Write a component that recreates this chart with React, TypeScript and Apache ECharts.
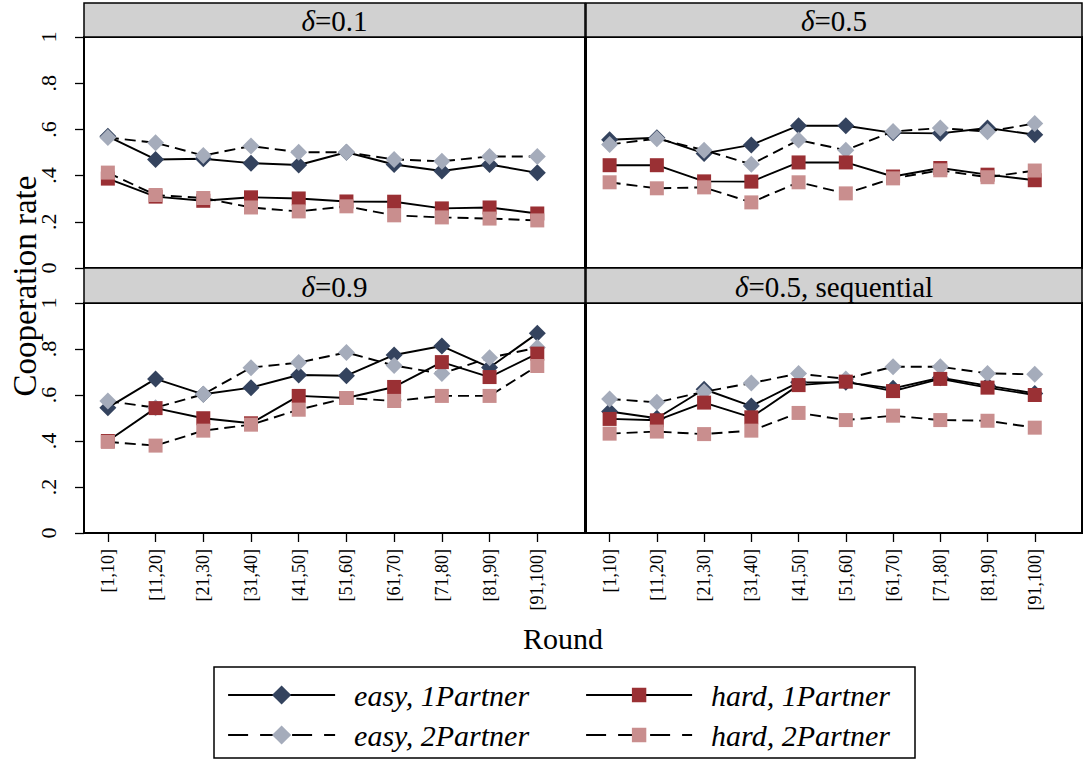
import React, { useEffect, useRef } from "react";
import * as echarts from "echarts";

const rounds = ["[1,10]", "[11,20]", "[21,30]", "[31,40]", "[41,50]", "[51,60]", "[61,70]", "[71,80]", "[81,90]", "[91,100]"];
const yTicks = [0, 0.2, 0.4, 0.6, 0.8, 1];
const seriesNames = ["easy, 1Partner", "easy, 2Partner", "hard, 1Partner", "hard, 2Partner"];

// delta = 0.1
const easy1_d01 = [0.57, 0.47, 0.473, 0.454, 0.446, 0.501, 0.448, 0.42, 0.448, 0.412];
const easy2_d01 = [0.565, 0.542, 0.487, 0.528, 0.501, 0.501, 0.47, 0.462, 0.483, 0.483];
const hard1_d01 = [0.387, 0.309, 0.291, 0.306, 0.301, 0.288, 0.287, 0.258, 0.262, 0.236];
const hard2_d01 = [0.413, 0.316, 0.303, 0.262, 0.245, 0.267, 0.228, 0.219, 0.214, 0.206];
// delta = 0.5
const easy1_d05 = [0.555, 0.564, 0.496, 0.533, 0.616, 0.616, 0.585, 0.583, 0.606, 0.577];
const easy2_d05 = [0.535, 0.56, 0.51, 0.449, 0.554, 0.51, 0.591, 0.606, 0.59, 0.626];
const hard1_d05 = [0.445, 0.445, 0.375, 0.374, 0.457, 0.457, 0.396, 0.433, 0.404, 0.38];
const hard2_d05 = [0.371, 0.345, 0.349, 0.284, 0.371, 0.323, 0.388, 0.423, 0.393, 0.422];
// delta = 0.9
const easy1_d09 = [0.545, 0.67, 0.603, 0.632, 0.687, 0.684, 0.774, 0.813, 0.72, 0.868];
const easy2_d09 = [0.574, 0.545, 0.603, 0.719, 0.741, 0.785, 0.728, 0.693, 0.762, 0.806];
const hard1_d09 = [0.4, 0.543, 0.499, 0.477, 0.596, 0.587, 0.635, 0.743, 0.678, 0.78];
const hard2_d09 = [0.396, 0.38, 0.445, 0.471, 0.536, 0.587, 0.574, 0.596, 0.596, 0.726];
// delta = 0.5, sequential
const easy1_seq = [0.528, 0.499, 0.625, 0.552, 0.655, 0.655, 0.629, 0.675, 0.641, 0.607];
const easy2_seq = [0.583, 0.568, 0.614, 0.652, 0.693, 0.67, 0.723, 0.723, 0.694, 0.69];
const hard1_seq = [0.496, 0.49, 0.567, 0.503, 0.643, 0.658, 0.617, 0.67, 0.632, 0.6];
const hard2_seq = [0.432, 0.441, 0.43, 0.445, 0.522, 0.491, 0.51, 0.491, 0.488, 0.458];

const panelTitles = ["0.1", "0.5", "0.9", "0.5, sequential"];
const panelData = [
  [easy1_d01, easy2_d01, hard1_d01, hard2_d01],
  [easy1_d05, easy2_d05, hard1_d05, hard2_d05],
  [easy1_d09, easy2_d09, hard1_d09, hard2_d09],
  [easy1_seq, easy2_seq, hard1_seq, hard2_seq],
];

const FONT = "Liberation Serif";
const DASH = [11, 6];
const LEGEND_DASH = [20, 12];
const seriesStyles = [
  { symbol: "diamond", size: 17, color: "#34435e", dash: "solid" },
  { symbol: "diamond", size: 17, color: "#a5acbb", dash: DASH },
  { symbol: "rect", size: 14, color: "#9a3034", dash: "solid" },
  { symbol: "rect", size: 14, color: "#c98e8e", dash: DASH },
];

const grids = [
  { left: 84, top: 37, width: 501, height: 231 },
  { left: 586, top: 37, width: 496, height: 231 },
  { left: 84, top: 303, width: 501, height: 230 },
  { left: 586, top: 303, width: 496, height: 230 },
];

export default function App() {
  const ref = useRef<HTMLDivElement>(null);
  useEffect(() => {
    const chart = echarts.init(ref.current!, null, { renderer: "svg" });
    const xAxis = grids.map((_, i) => {
      const bottom = i >= 2;
      return {
        type: "value",
        gridIndex: i,
        min: 0.5,
        max: 11,
        splitLine: { show: false },
        axisLine: { show: false },
        axisTick: {
          show: bottom,
          length: 9,
          lineStyle: { color: "#000", width: 1.3 },
          customValues: rounds.map((_, k) => k + 1),
        },
        axisLabel: {
          show: bottom,
          rotate: 90,
          margin: 16,
          fontFamily: FONT,
          fontSize: 18,
          color: "#000",
          customValues: rounds.map((_, k) => k + 1),
          formatter: (v: number) => rounds[Math.round(v) - 1] ?? "",
        },
      };
    });
    const yAxis = grids.map((_, i) => {
      const left = i % 2 === 0;
      return {
        type: "value",
        gridIndex: i,
        min: 0,
        max: 1,
        interval: 0.2,
        splitLine: { show: false },
        axisLine: { show: false },
        axisTick: { show: left, length: 9, lineStyle: { color: "#000", width: 1.3 } },
        axisLabel: {
          show: left,
          rotate: 90,
          margin: 25,
          fontFamily: FONT,
          fontSize: 22,
          color: "#000",
          customValues: yTicks,
          formatter: (v: number) => (v === 0 ? "0" : v === 1 ? "1" : "." + Math.round(v * 10)),
        },
      };
    });
    const series: any[] = [];
    panelData.forEach((arrs, p) => {
      arrs.forEach((vals, s) => {
        const st = seriesStyles[s];
        series.push({
          type: "line",
          name: seriesNames[s],
          xAxisIndex: p,
          yAxisIndex: p,
          data: vals.map((v, k) => [k + 1, v]),
          symbol: st.symbol,
          symbolSize: st.size,
          showSymbol: true,
          itemStyle: { color: st.color, opacity: 1 },
          lineStyle: { color: "#000", width: 1.9, type: st.dash },
          z: 2 + s,
        });
      });
    });

    const legendPos = [
      { left: 227, top: 680, w: 107, h: 24 },
      { left: 227, top: 720, w: 107, h: 24 },
      { left: 585, top: 680, w: 106, h: 18 },
      { left: 585, top: 720, w: 106, h: 18 },
    ];
    const legend = seriesNames.map((n, i) => ({
      data: [n],
      left: legendPos[i].left,
      top: legendPos[i].top,
      padding: 0,
      itemWidth: legendPos[i].w,
      itemHeight: legendPos[i].h,
      selectedMode: false,
      lineStyle: { width: 2.2, color: "#000", type: i % 2 === 0 ? "solid" : LEGEND_DASH },
      textStyle: {
        fontFamily: FONT,
        fontStyle: "italic",
        fontSize: 30,
        color: "#000",
        padding: [0, 0, 0, 14],
      },
    }));

    const graphic: any[] = [];
    const headers = [
      { x: 84, y: 3, w: 501, h: 34 },
      { x: 586, y: 3, w: 496, h: 34 },
      { x: 84, y: 268, w: 501, h: 35 },
      { x: 586, y: 268, w: 496, h: 35 },
    ];
    headers.forEach((h, i) => {
      graphic.push({
        type: "rect",
        shape: { x: h.x, y: h.y, width: h.w, height: h.h },
        style: { fill: "#d1d1d1", stroke: "#000", lineWidth: 1.5 },
        z: 10,
      });
      graphic.push({
        type: "text",
        x: h.x + h.w / 2,
        y: h.y + h.h / 2 + 1,
        style: {
          text: "{i|δ}=" + panelTitles[i],
          rich: { i: { fontStyle: "italic", fontFamily: FONT, fontSize: 29, fill: "#000" } },
          fontFamily: FONT,
          fontSize: 29,
          fill: "#000",
          align: "center",
          verticalAlign: "middle",
        },
        z: 11,
      });
    });
    graphic.push({
      type: "text",
      x: 25,
      y: 286,
      rotation: Math.PI / 2,
      style: { text: "Cooperation rate", fontFamily: FONT, fontSize: 33, fill: "#000", align: "center", verticalAlign: "middle" },
    });
    graphic.push({
      type: "text",
      x: 563,
      y: 638,
      style: { text: "Round", fontFamily: FONT, fontSize: 30, fill: "#000", align: "center", verticalAlign: "middle" },
    });
    graphic.push({
      type: "rect",
      shape: { x: 214, y: 667, width: 701, height: 91 },
      style: { fill: "none", stroke: "#000", lineWidth: 1.5 },
    });

    chart.setOption({
      animation: false,
      backgroundColor: "#fff",
      grid: grids.map((g) => ({ ...g, show: true, borderColor: "#000", borderWidth: 2, backgroundColor: "#fff" })),
      xAxis,
      yAxis,
      legend,
      series,
      graphic,
    });
    return () => chart.dispose();
  }, []);
  return <div ref={ref} style={{ position: "absolute", left: 0, top: 0, width: 1083, height: 761 }} />;
}
